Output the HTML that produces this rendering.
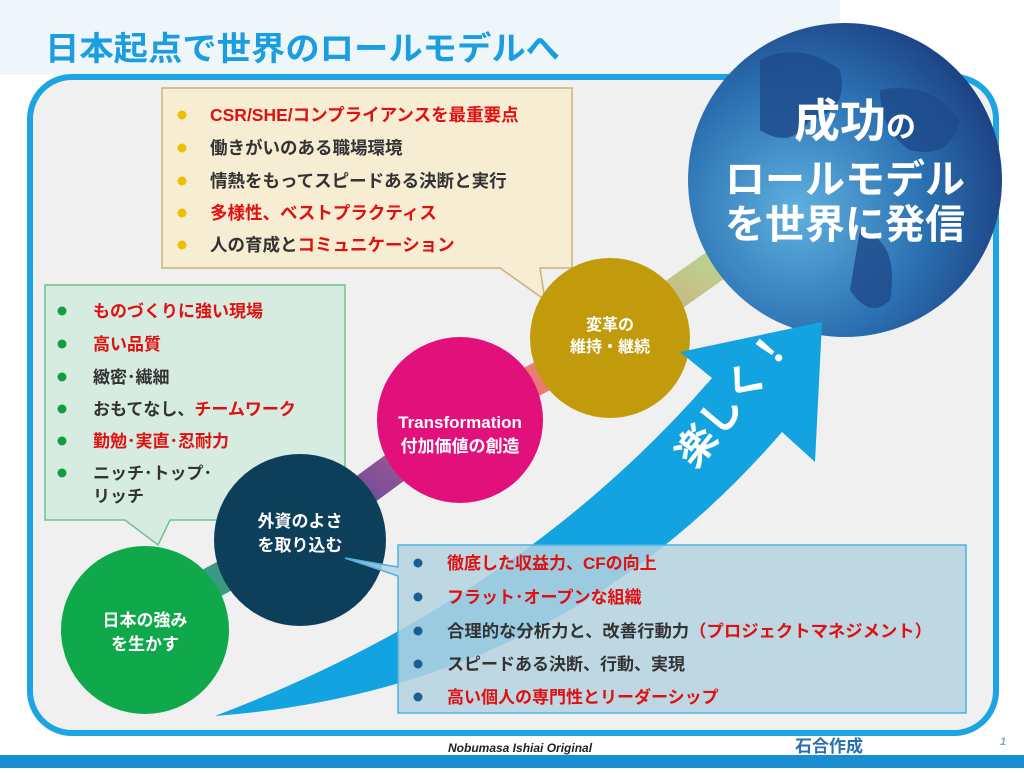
<!DOCTYPE html>
<html><head><meta charset="utf-8"><style>
body{margin:0;width:1024px;height:768px;overflow:hidden;background:#fff;font-family:"Liberation Sans","Noto Sans CJK JP",sans-serif;}
svg text{font-family:"Liberation Sans","Noto Sans CJK JP",sans-serif;font-weight:bold;}
</style></head><body>
<svg width="1024" height="768" viewBox="0 0 1024 768">
<defs>
<radialGradient id="globe" cx="0.35" cy="0.6" r="0.7">
<stop offset="0" stop-color="#5fb0e0"/><stop offset="0.6" stop-color="#2a6fb0"/><stop offset="1" stop-color="#1c3f80"/></radialGradient>
<linearGradient id="rib" x1="0" y1="1" x2="1" y2="0">
<stop offset="0" stop-color="#2bb07a"/><stop offset="0.3" stop-color="#6a4aa0"/><stop offset="0.6" stop-color="#f07070"/><stop offset="1" stop-color="#b8d890"/></linearGradient>
</defs>
<rect x="0" y="0" width="840" height="75" fill="#eef6fa"/>
<text x="45" y="60" font-size="33" fill="#1a9ee0" textLength="515" lengthAdjust="spacingAndGlyphs">日本起点で世界のロールモデルへ</text>
<rect x="30" y="77" width="966" height="656" rx="42" fill="#f0f0f0" stroke="#1ea3e3" stroke-width="6"/>
<path d="M180,600 L310,530 L460,420 L610,340 L730,255" stroke="url(#rib)" stroke-width="32" fill="none"/>
<circle cx="845" cy="180" r="157" fill="url(#globe)"/>
<path d="M760,60 Q800,40 840,70 Q850,110 810,120 Q790,150 760,130 Z M880,90 Q930,80 960,120 Q950,160 910,150 Q880,130 880,90 Z M860,230 Q900,240 890,300 Q870,320 850,290 Z" fill="#1e4a8a" opacity="0.8"/>
<text x="855" y="137" font-size="46" fill="#fff" text-anchor="middle">成功<tspan font-size="30">の</tspan></text>
<text x="845" y="193" font-size="40" fill="#fff" text-anchor="middle">ロールモデル</text>
<text x="845" y="238" font-size="40" fill="#fff" text-anchor="middle">を世界に発信</text>
<path d="M162,88 H572 V268 H540 L545,300 L500,268 H162 Z" fill="#f6edd2" stroke="#c9b27a" stroke-width="1.5"/>
<g font-size="17.5">
<circle cx="182" cy="115" r="4.5" fill="#f0c000"/><text x="210" y="121" fill="#e01010">CSR/SHE/コンプライアンスを最重要点</text>
<circle cx="182" cy="148" r="4.5" fill="#f0c000"/><text x="210" y="154" fill="#333">働きがいのある職場環境</text>
<circle cx="182" cy="181" r="4.5" fill="#f0c000"/><text x="210" y="187" fill="#333">情熱をもってスピードある決断と実行</text>
<circle cx="182" cy="213" r="4.5" fill="#f0c000"/><text x="210" y="219" fill="#e01010">多様性、ベストプラクティス</text>
<circle cx="182" cy="245" r="4.5" fill="#f0c000"/><text x="210" y="251" fill="#333">人の育成と<tspan fill="#e01010">コミュニケーション</tspan></text>
</g>
<path d="M45,285 H345 V520 H170 L158,545 L125,520 H45 Z" fill="#d6ece0" stroke="#70c090" stroke-width="1.5"/>
<g font-size="17">
<circle cx="62" cy="311" r="4.5" fill="#10a040"/><text x="93" y="317" fill="#e01010">ものづくりに強い現場</text>
<circle cx="62" cy="344" r="4.5" fill="#10a040"/><text x="93" y="350" fill="#e01010">高い品質</text>
<circle cx="62" cy="377" r="4.5" fill="#10a040"/><text x="93" y="383" fill="#333">緻密･繊細</text>
<circle cx="62" cy="409" r="4.5" fill="#10a040"/><text x="93" y="415" fill="#333">おもてなし、<tspan fill="#e01010">チームワーク</tspan></text>
<circle cx="62" cy="441" r="4.5" fill="#10a040"/><text x="93" y="447" fill="#e01010">勤勉･実直･忍耐力</text>
<circle cx="62" cy="473" r="4.5" fill="#10a040"/><text x="93" y="479" fill="#333">ニッチ･トップ･</text>
<text x="93" y="502" fill="#333">リッチ</text>
</g>
<circle cx="610" cy="338" r="80" fill="#c29b0c"/>
<text x="610" y="330" font-size="16" fill="#fff" text-anchor="middle">変革の</text>
<text x="610" y="352" font-size="16" fill="#fff" text-anchor="middle">維持・継続</text>
<circle cx="460" cy="420" r="83" fill="#e2107b"/>
<text x="460" y="428" font-size="17" fill="#fff" text-anchor="middle">Transformation</text>
<text x="460" y="452" font-size="17" fill="#fff" text-anchor="middle">付加価値の創造</text>
<path d="M215,716 Q560,690 782,432 L815,462 L822,322 L680,352 L712,378 Q520,600 215,716 Z" fill="#12a3e0"/>
<text x="0" y="0" font-size="40" fill="#fff" transform="translate(695,470) rotate(-52)">楽しく！</text>
<circle cx="300" cy="540" r="86" fill="#0d3e5a"/>
<text x="300" y="527" font-size="17" fill="#fff" text-anchor="middle">外資のよさ</text>
<text x="300" y="551" font-size="17" fill="#fff" text-anchor="middle">を取り込む</text>
<circle cx="145" cy="630" r="84" fill="#0fa84a"/>
<text x="145" y="626" font-size="17" fill="#fff" text-anchor="middle">日本の強み</text>
<text x="145" y="650" font-size="17" fill="#fff" text-anchor="middle">を生かす</text>
<path d="M398,545 H966 V713 H398 V576 L345,558 L398,567 Z" fill="#b4d2e0" fill-opacity="0.85" stroke="#4ab3e3" stroke-width="1.5"/>
<g font-size="17">
<circle cx="418" cy="563" r="4.5" fill="#1a5f90"/><text x="447" y="569" fill="#e01010">徹底した収益力、CFの向上</text>
<circle cx="418" cy="597" r="4.5" fill="#1a5f90"/><text x="447" y="603" fill="#e01010">フラット･オープンな組織</text>
<circle cx="418" cy="631" r="4.5" fill="#1a5f90"/><text x="447" y="637" fill="#333" textLength="485" lengthAdjust="spacingAndGlyphs">合理的な分析力と、改善行動力<tspan fill="#e01010">（プロジェクトマネジメント）</tspan></text>
<circle cx="418" cy="664" r="4.5" fill="#1a5f90"/><text x="447" y="670" fill="#333">スピードある決断、行動、実現</text>
<circle cx="418" cy="697" r="4.5" fill="#1a5f90"/><text x="447" y="703" fill="#e01010">高い個人の専門性とリーダーシップ</text>
</g>
<text x="448" y="752" font-size="12" fill="#222" font-style="italic" font-weight="normal">Nobumasa Ishiai Original</text>
<text x="795" y="752" font-size="17" fill="#2a6fb0">石合作成</text>
<text x="1000" y="745" font-size="11" fill="#7ab" font-style="italic">1</text>
<rect x="0" y="755" width="1024" height="13" fill="#1a8ed0"/>
</svg>
</body></html>
